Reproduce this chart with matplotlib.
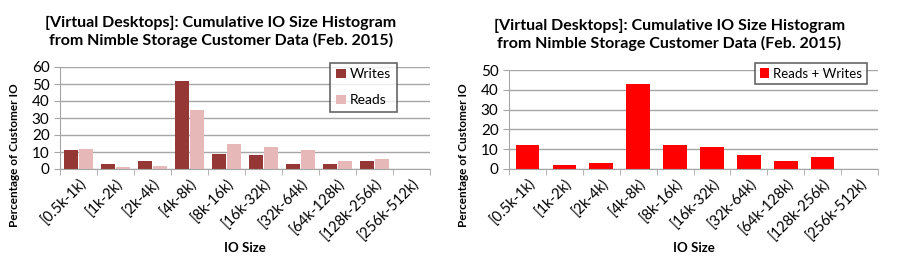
import numpy as np
import matplotlib
matplotlib.use("Agg")
import matplotlib.pyplot as plt

plt.rcParams['font.family'] = ['Lato', 'DejaVu Sans']

TITLE = "[Virtual Desktops]: Cumulative IO Size Histogram\nfrom Nimble Storage Customer Data (Feb. 2015)"
categories = ["[0.5k-1k)", "[1k-2k)", "[2k-4k)", "[4k-8k)", "[8k-16k)",
              "[16k-32k)", "[32k-64k)", "[64k-128k)", "[128k-256k)", "[256k-512k)"]
writes = [11, 3, 5, 52, 9, 8, 3, 3, 5, 0]
reads = [12, 1, 2, 35, 15, 13, 11, 5, 6, 0]
reads_writes = [12, 2, 3, 43, 12, 11, 7, 4, 6, 0]

GRID = "#a6a6a6"


def style_axes(ax, ymax, h):
    x = np.arange(len(categories))
    ax.set_xlim(-0.5, len(categories) - 0.5)
    ax.set_ylim(0, ymax)
    ax.set_yticks(np.arange(0, ymax + 1, 10))
    ax.yaxis.grid(True, color=GRID, linewidth=1)
    ax.set_axisbelow(True)
    for s in ["top", "right"]:
        ax.spines[s].set_visible(False)
    for s in ["left", "bottom"]:
        ax.spines[s].set_color(GRID)
    ax.set_xticks(x)
    ax.set_xticklabels(categories, rotation=45, ha="right", rotation_mode="anchor",
                       fontsize=10.5)
    ax.tick_params(axis="x", length=0, pad=5)
    ax.set_xticks(np.arange(-0.5, len(categories), 1), minor=True)
    ax.tick_params(axis="x", which="minor", length=4, color=GRID)
    ax.tick_params(axis="y", length=4, color=GRID, labelsize=11)
    # title sits a bit left of the plot centre, like the original
    ax.text(0.435, 1 + 35 / h, TITLE, transform=ax.transAxes, ha="center", va="center",
            fontsize=11.5, fontweight="bold", linespacing=1.3)
    ax.set_ylabel("Percentage of Customer IO", fontsize=8.5, fontweight="bold")
    ax.yaxis.set_label_coords(-40 / 370, 14 / h)
    ax.set_xlabel("IO Size", fontsize=9.5, fontweight="bold")
    ax.xaxis.set_label_coords(0.5, -73 / h)


fig = plt.figure(figsize=(9, 2.67), dpi=100)
ax1 = fig.add_axes([60 / 900, 1 - 169 / 267, 370 / 900, 102 / 267])
ax2 = fig.add_axes([509 / 900, 1 - 169 / 267, 369 / 900, 99 / 267])

x = np.arange(len(categories))
w = 0.38
ax1.bar(x - w / 2 - 0.01, writes, w, color="#953735", label="Writes")
ax1.bar(x + w / 2 + 0.01, reads, w, color="#e6b9b8", label="Reads")
style_axes(ax1, 60, 102)
leg = ax1.legend(loc="upper right", bbox_to_anchor=(0.91, 1.04), borderaxespad=0,
                 fancybox=False, fontsize=10, handlelength=0.7, handleheight=0.7,
                 handletextpad=0.3, labelspacing=1.0, borderpad=0.4)
leg.get_frame().set_edgecolor("#404040")
leg.get_frame().set_linewidth(1.2)

ax2.bar(x, reads_writes, 0.64, color="#ff0000", label="Reads + Writes")
style_axes(ax2, 50, 99)
leg = ax2.legend(loc="upper right", bbox_to_anchor=(0.97, 1.07), borderaxespad=0,
                 fancybox=False, fontsize=9.5, handlelength=0.7, handleheight=0.7,
                 handletextpad=0.3, borderpad=0.35)
leg.get_frame().set_edgecolor("#404040")
leg.get_frame().set_linewidth(1.2)

fig.savefig("out.png", dpi=100)
